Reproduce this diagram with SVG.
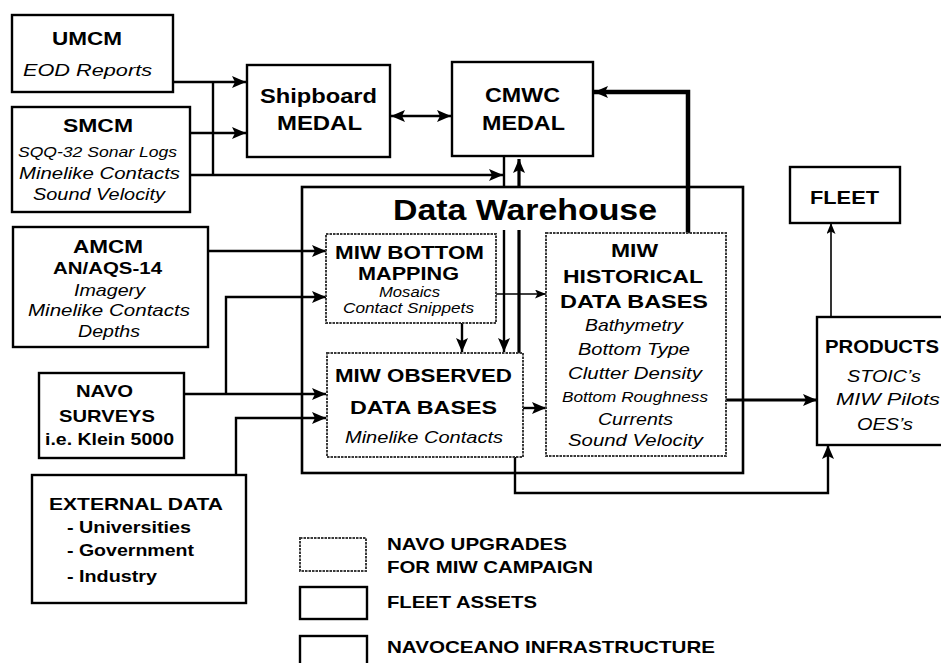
<svg xmlns="http://www.w3.org/2000/svg" width="941" height="663" viewBox="0 0 941 663">
<style>
.box{fill:#fff;stroke:#000;stroke-width:2.4}
.dbox{fill:#fff;stroke:#3a3a3a;stroke-width:2;stroke-dasharray:2.5 1}
.wh{fill:none;stroke:#000;stroke-width:2.6}
.ln{fill:none;stroke:#000;stroke-width:2.4}
.thk{stroke-width:4.5}
.mid{stroke-width:3.2}
.thn{stroke-width:1.6}
.b{font-family:"Liberation Sans",Arial,sans-serif;font-weight:bold;fill:#000}
.i{font-family:"Liberation Sans",Arial,sans-serif;font-style:italic;fill:#000}
</style>
<defs>
<marker id="ah" viewBox="0 0 14 12" markerWidth="14" markerHeight="12" refX="14" refY="6" markerUnits="userSpaceOnUse" orient="auto-start-reverse"><path d="M0,0 L14,6 L0,12 L3,6 Z" fill="#000"/></marker>
<marker id="as" viewBox="0 0 11 9" markerWidth="11" markerHeight="9" refX="11" refY="4.5" markerUnits="userSpaceOnUse" orient="auto"><path d="M0,0 L11,4.5 L0,9 L2.5,4.5 Z" fill="#000"/></marker>
</defs>
<rect width="941" height="663" fill="#fff"/>

<g id="data-warehouse">
<rect class="wh" x="302" y="187" width="441" height="286"/>
<text class="b" x="393" y="220" font-size="30" textLength="264" lengthAdjust="spacingAndGlyphs">Data Warehouse</text>
</g>

<g id="connectors">
<path class="ln" d="M173,82 H246" marker-end="url(#ah)"/>
<path class="ln" d="M190,133 H246" marker-end="url(#ah)"/>
<path class="ln" d="M213,82 V175"/>
<path class="ln" d="M190,175 H503" marker-end="url(#ah)"/>
<path class="ln" d="M391,116 H451" marker-start="url(#ah)" marker-end="url(#ah)"/>
<path class="ln thk" d="M688,233 V92 H594" marker-end="url(#ah)"/>
<path class="ln" d="M504,156 V188 M504,230 V352" marker-end="url(#ah)"/>
<path class="ln mid" d="M519,353 V230 M519,188 V159" marker-end="url(#ah)"/>
<path class="ln" d="M208,251 H326" marker-end="url(#ah)"/>
<path class="ln" d="M184,394 H326" marker-end="url(#ah)"/>
<path class="ln" d="M226,394 V297 H326" marker-end="url(#ah)"/>
<path class="ln" d="M236,475 V418 H326" marker-end="url(#ah)"/>
<path class="ln" d="M462,323 V352" marker-end="url(#ah)"/>
<path class="ln thn" d="M463,294 H546" marker-end="url(#as)"/>
<path class="ln" d="M523,408 H546" marker-end="url(#ah)"/>
<path class="ln mid" d="M726,400 H817" marker-end="url(#ah)"/>
<path class="ln thn" d="M831,317 V223" marker-end="url(#as)"/>
<path class="ln" d="M515,457 V493 H828 V445" marker-end="url(#ah)"/>
</g>

<g id="umcm">
<rect class="box" x="12" y="15" width="161" height="77"/>
<text class="b" x="52" y="45" font-size="19" textLength="70" lengthAdjust="spacingAndGlyphs">UMCM</text>
<text class="i" x="23" y="76" font-size="16" textLength="129" lengthAdjust="spacingAndGlyphs">EOD  Reports</text>
</g>

<g id="smcm">
<rect class="box" x="12" y="107" width="178" height="105"/>
<text class="b" x="63" y="132" font-size="19" textLength="70" lengthAdjust="spacingAndGlyphs">SMCM</text>
<text class="i" x="18" y="157" font-size="15" textLength="159" lengthAdjust="spacingAndGlyphs">SQQ-32 Sonar Logs</text>
<text class="i" x="19" y="179" font-size="17" textLength="161" lengthAdjust="spacingAndGlyphs">Minelike  Contacts</text>
<text class="i" x="33" y="200" font-size="17" textLength="132" lengthAdjust="spacingAndGlyphs">Sound Velocity</text>
</g>

<g id="shipboard-medal">
<rect class="box" x="247" y="65" width="143" height="92"/>
<text class="b" x="260" y="103" font-size="21" textLength="117" lengthAdjust="spacingAndGlyphs">Shipboard</text>
<text class="b" x="277" y="130" font-size="21" textLength="85" lengthAdjust="spacingAndGlyphs">MEDAL</text>
</g>

<g id="cmwc-medal">
<rect class="box" x="452" y="62" width="141" height="94"/>
<text class="b" x="485" y="102" font-size="21" textLength="75" lengthAdjust="spacingAndGlyphs">CMWC</text>
<text class="b" x="482" y="130" font-size="21" textLength="83" lengthAdjust="spacingAndGlyphs">MEDAL</text>
</g>

<g id="miw-bottom-mapping">
<rect class="dbox" x="326" y="234" width="170" height="89"/>
<text class="b" x="335" y="259" font-size="19" textLength="149" lengthAdjust="spacingAndGlyphs">MIW  BOTTOM</text>
<text class="b" x="358" y="280" font-size="19" textLength="101" lengthAdjust="spacingAndGlyphs">MAPPING</text>
<text class="i" x="379" y="297" font-size="14" textLength="61" lengthAdjust="spacingAndGlyphs">Mosaics</text>
<text class="i" x="343" y="313" font-size="14" textLength="131" lengthAdjust="spacingAndGlyphs">Contact  Snippets</text>
</g>

<g id="miw-observed">
<rect class="dbox" x="327" y="353" width="196" height="104"/>
<text class="b" x="335" y="382" font-size="19" textLength="177" lengthAdjust="spacingAndGlyphs">MIW  OBSERVED</text>
<text class="b" x="350" y="414" font-size="19" textLength="147" lengthAdjust="spacingAndGlyphs">DATA BASES</text>
<text class="i" x="345" y="443" font-size="17" textLength="158" lengthAdjust="spacingAndGlyphs">Minelike  Contacts</text>
</g>

<g id="miw-historical">
<rect class="dbox" x="546" y="233" width="180" height="223"/>
<text class="b" x="611" y="257" font-size="19" textLength="47" lengthAdjust="spacingAndGlyphs">MIW</text>
<text class="b" x="563" y="283" font-size="19" textLength="140" lengthAdjust="spacingAndGlyphs">HISTORICAL</text>
<text class="b" x="560" y="308" font-size="19" textLength="148" lengthAdjust="spacingAndGlyphs">DATA BASES</text>
<text class="i" x="585" y="331" font-size="17" textLength="98" lengthAdjust="spacingAndGlyphs">Bathymetry</text>
<text class="i" x="578" y="355" font-size="17" textLength="112" lengthAdjust="spacingAndGlyphs">Bottom Type</text>
<text class="i" x="568" y="379" font-size="17" textLength="134" lengthAdjust="spacingAndGlyphs">Clutter Density</text>
<text class="i" x="562" y="402" font-size="15" textLength="146" lengthAdjust="spacingAndGlyphs">Bottom  Roughness</text>
<text class="i" x="598" y="425" font-size="17" textLength="75" lengthAdjust="spacingAndGlyphs">Currents</text>
<text class="i" x="568" y="446" font-size="17" textLength="135" lengthAdjust="spacingAndGlyphs">Sound Velocity</text>
</g>

<g id="amcm">
<rect class="box" x="13" y="227" width="195" height="120"/>
<text class="b" x="73" y="253" font-size="19" textLength="70" lengthAdjust="spacingAndGlyphs">AMCM</text>
<text class="b" x="53" y="274" font-size="17" textLength="109" lengthAdjust="spacingAndGlyphs">AN/AQS-14</text>
<text class="i" x="74" y="296" font-size="17" textLength="71" lengthAdjust="spacingAndGlyphs">Imagery</text>
<text class="i" x="28" y="316" font-size="17" textLength="162" lengthAdjust="spacingAndGlyphs">Minelike  Contacts</text>
<text class="i" x="78" y="337" font-size="17" textLength="62" lengthAdjust="spacingAndGlyphs">Depths</text>
</g>

<g id="navo-surveys">
<rect class="box" x="39" y="373" width="145" height="85"/>
<text class="b" x="76" y="397" font-size="17" textLength="57" lengthAdjust="spacingAndGlyphs">NAVO</text>
<text class="b" x="59" y="422" font-size="17" textLength="96" lengthAdjust="spacingAndGlyphs">SURVEYS</text>
<text class="b" x="45" y="445" font-size="17" textLength="129" lengthAdjust="spacingAndGlyphs">i.e. Klein 5000</text>
</g>

<g id="external-data">
<rect class="box" x="32" y="475" width="214" height="128"/>
<text class="b" x="49" y="510" font-size="17" textLength="174" lengthAdjust="spacingAndGlyphs">EXTERNAL  DATA</text>
<text class="b" x="67" y="533" font-size="17" textLength="124" lengthAdjust="spacingAndGlyphs">- Universities</text>
<text class="b" x="67" y="556" font-size="17" textLength="127" lengthAdjust="spacingAndGlyphs">- Government</text>
<text class="b" x="67" y="582" font-size="17" textLength="90" lengthAdjust="spacingAndGlyphs">- Industry</text>
</g>

<g id="fleet">
<rect class="box" x="790" y="167" width="110" height="56"/>
<text class="b" x="810" y="204" font-size="19" textLength="69" lengthAdjust="spacingAndGlyphs">FLEET</text>
</g>

<g id="products">
<rect class="box" x="817" y="317" width="126" height="128"/>
<text class="b" x="825" y="353" font-size="18" textLength="114" lengthAdjust="spacingAndGlyphs">PRODUCTS</text>
<text class="i" x="847" y="382" font-size="17" textLength="74" lengthAdjust="spacingAndGlyphs">STOIC’s</text>
<text class="i" x="836" y="405" font-size="17" textLength="104" lengthAdjust="spacingAndGlyphs">MIW Pilots</text>
<text class="i" x="857" y="430" font-size="17" textLength="56" lengthAdjust="spacingAndGlyphs">OES’s</text>
</g>

<g id="legend">
<rect class="dbox" x="300" y="538" width="66" height="33"/>
<text class="b" x="387" y="550" font-size="17" textLength="180" lengthAdjust="spacingAndGlyphs">NAVO  UPGRADES</text>
<text class="b" x="387" y="573" font-size="17" textLength="206" lengthAdjust="spacingAndGlyphs">FOR MIW CAMPAIGN</text>
<rect class="box" x="300" y="587" width="67" height="32"/>
<text class="b" x="387" y="608" font-size="17" textLength="150" lengthAdjust="spacingAndGlyphs">FLEET  ASSETS</text>
<rect class="box" x="300" y="636" width="67" height="40"/>
<text class="b" x="387" y="653" font-size="17" textLength="328" lengthAdjust="spacingAndGlyphs">NAVOCEANO   INFRASTRUCTURE</text>
</g>
</svg>
